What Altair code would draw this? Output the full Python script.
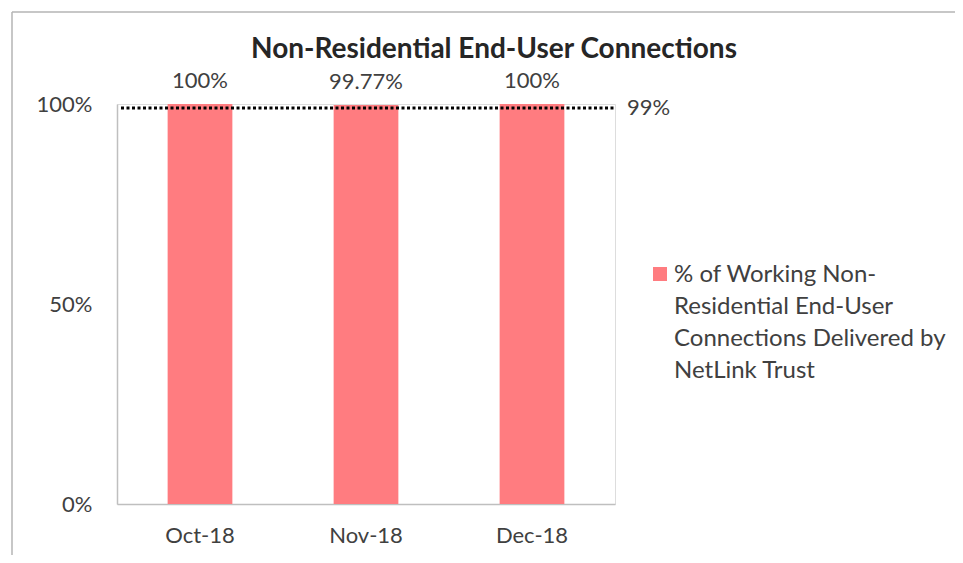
import altair as alt
import pandas as pd

months = ["Oct-18", "Nov-18", "Dec-18"]
values = [1.0, 0.9977, 1.0]
value_labels = ["100%", "99.77%", "100%"]
target = 0.99
target_label = "99%"
series_name = "% of Working Non-Residential End-User Connections Delivered by NetLink Trust"
legend_lines = ["% of Working Non-", "Residential End-User", "Connections Delivered by", "NetLink Trust"]
title_text = "Non-Residential End-User Connections"

FONT = "Lato"
BAR = "#FF7C80"
TXT = "#404040"
W, H = 498, 400

df = pd.DataFrame({"month": months, "value": values, "label": value_labels, "series": series_name})

x = alt.X("month:N", sort=months, title=None,
          scale=alt.Scale(paddingInner=0.61, paddingOuter=0.305),
          axis=alt.Axis(labelAngle=0, ticks=False, labelPadding=21, labelFontSize=22,
                        labelColor=TXT, labelFont=FONT, domainColor="#bfbfbf", domainWidth=1.5))
y = alt.Y("value:Q", title=None, scale=alt.Scale(domain=[0, 1]),
          axis=alt.Axis(values=[0, 0.5, 1.0], format=".0%", ticks=False, grid=False,
                        labelPadding=25, labelFontSize=22, labelColor=TXT, labelFont=FONT,
                        domainColor="#bfbfbf", domainWidth=1.5))

base = alt.Chart(df)
bars = base.mark_bar(color=BAR).encode(x=x, y=y)
labels = base.mark_text(fontSize=22, font=FONT, color=TXT, dy=-23, baseline="middle").encode(
    x=alt.X("month:N", sort=months), y="value:Q", text="label:N")

tdf = pd.DataFrame({"t": [target], "lab": [target_label]})
tline = alt.Chart(tdf).mark_rule(color="#000000", strokeWidth=3, strokeDash=[3, 2.5]).encode(
    y="t:Q", x=alt.value(4), x2=alt.value(W))
tlabel = alt.Chart(tdf).mark_text(align="left", baseline="middle", fontSize=22, font=FONT, color=TXT).encode(
    y="t:Q", x=alt.value(510), text="lab:N")

ldf = pd.DataFrame({"s": [series_name], "txt": [legend_lines]})
lsym = alt.Chart(ldf).mark_square(size=196, color=BAR, opacity=1).encode(
    x=alt.value(543), y=alt.value(170))
ltext = alt.Chart(ldf).mark_text(align="left", baseline="middle", fontSize=24, font=FONT,
                                 color=TXT, lineHeight=32).encode(
    x=alt.value(557), y=alt.value(171), text="txt")

ttl = alt.Chart(pd.DataFrame({"t": [title_text]})).mark_text(
    align="center", baseline="alphabetic", fontSize=28, fontWeight="bold", font=FONT, color="#262626").encode(
    x=alt.value(377), y=alt.value(-46), text="t:N")

fdf = pd.DataFrame({"f": [0]})
frame_top = alt.Chart(fdf).mark_rule(color="#b5b5b5", strokeWidth=1.5).encode(
    x=alt.value(-105), x2=alt.value(846), y=alt.value(-92))
frame_left = alt.Chart(fdf).mark_rule(color="#b5b5b5", strokeWidth=1.5).encode(
    x=alt.value(-105), y=alt.value(-92), y2=alt.value(459))

chart = alt.layer(frame_top, frame_left, ttl, bars, tline, labels, tlabel, lsym, ltext).properties(
    width=W, height=H,
    padding={"left": 109, "top": 96, "right": 340, "bottom": 51},
    autosize=alt.AutoSizeParams(type="none"),
).configure_view(stroke=None).configure(background="white")

chart.save("out.html", embed_options={"renderer": "svg", "actions": False})
